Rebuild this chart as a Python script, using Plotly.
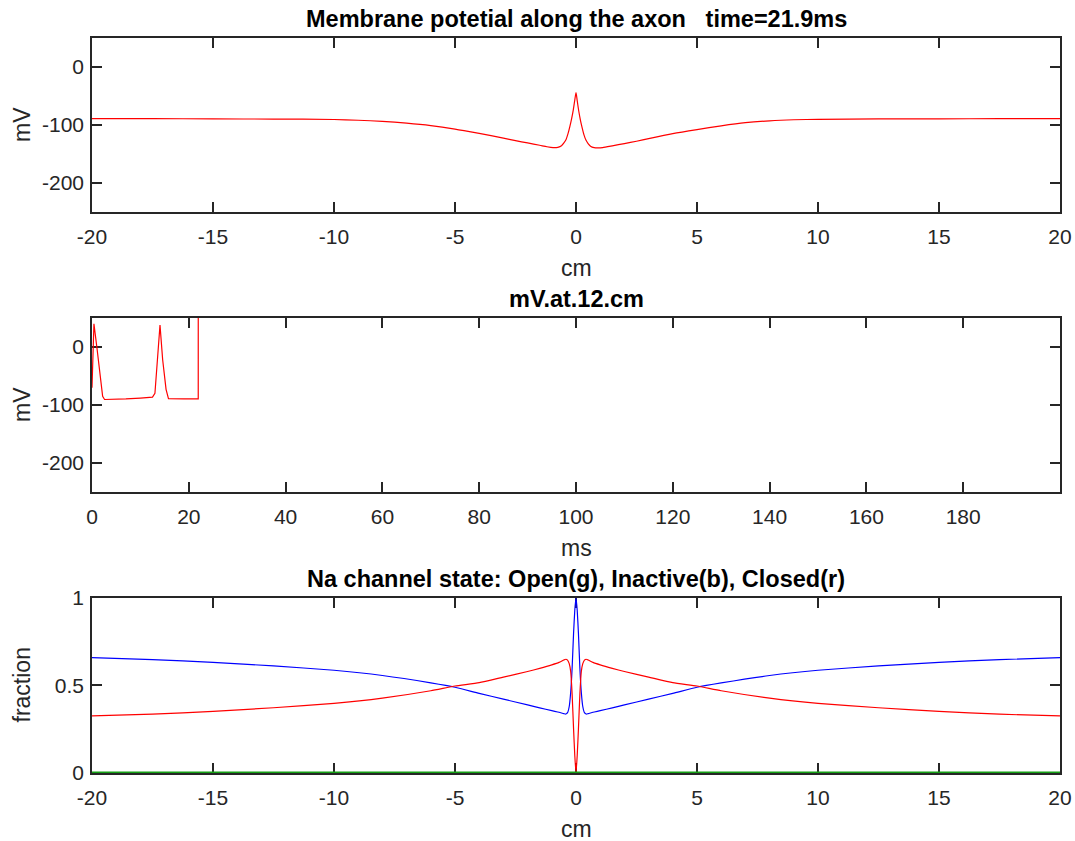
import plotly.graph_objects as go

# ---------------- data ----------------
# Panel 1: membrane potential along the axon (cm -> mV)
x_cm = [-20, -17.5, -15, -12.5, -10, -9, -8, -7, -6, -5, -4, -3, -2.5, -2, -1.5, -1.2,
        -0.95, -0.75, -0.6, -0.5, -0.41, -0.33, -0.25, -0.18, -0.11, -0.05, 0,
        0.05, 0.11, 0.18, 0.25, 0.33, 0.41, 0.5, 0.6, 0.75, 0.9, 1.1, 1.5, 2, 2.5, 3,
        4, 5, 6, 7, 8, 9, 10, 12.5, 15, 17.5, 20]
v_axon = [-89, -89, -89.5, -89.8, -90.5, -91.8, -93.8, -96.8, -101, -107, -114.5, -122.5, -127, -131, -135, -137.5,
          -139, -138.5, -136, -131, -125, -115, -102, -89, -73.5, -57, -44,
          -58, -75, -91, -104, -117, -126, -132, -136.5, -139, -139.5, -139, -136, -132, -128, -123.5,
          -115, -108, -101.5, -96, -92.8, -91, -90.2, -89.6, -89.5, -89, -89]

# Panel 2: membrane potential at 12 cm over time (ms -> mV)
t_ms = [0, 0.4, 1.0, 1.65, 2.2, 2.6, 4, 7, 10, 12.5, 13.0, 13.5, 14.05, 14.6, 15.3, 15.8, 17, 19, 21.0, 21.95, 21.97]
v_12cm = [-70, 40, 0, -51, -85, -90.5, -90.5, -89.5, -88, -86.5, -80, -22, 38, -22, -73, -89, -89.5, -89.5, -89.5, -89.5, 1000]

# Panel 3: Na channel state fractions along the axon
x_na = [-20, -17.5, -15, -12.5, -10, -8, -6, -5, -4, -3, -2, -1.5, -1, -0.7, -0.5, -0.42, -0.35, -0.28, -0.22,
        -0.16, -0.1, -0.05, 0,
        0.05, 0.1, 0.16, 0.22, 0.28, 0.35, 0.42, 0.5, 0.7, 1, 1.5, 2, 3, 4, 5, 6, 8, 10, 12.5, 15, 17.5, 20]
na_open = [0.0] * 45
na_inactive = [0.659, 0.648, 0.632, 0.612, 0.587, 0.557, 0.515, 0.49, 0.455, 0.422, 0.389, 0.372, 0.356, 0.347,
               0.339, 0.337, 0.345, 0.38, 0.46, 0.6, 0.8, 0.93, 1.0,
               0.93, 0.8, 0.6, 0.46, 0.38, 0.345, 0.337, 0.339, 0.347, 0.356, 0.372, 0.389, 0.422, 0.455,
               0.49, 0.515, 0.557, 0.587, 0.612, 0.632, 0.648, 0.659]
na_closed = [0.326, 0.336, 0.352, 0.373, 0.398, 0.428, 0.47, 0.497, 0.516, 0.548, 0.58, 0.598, 0.618, 0.632,
             0.646, 0.65, 0.645, 0.625, 0.58, 0.45, 0.25, 0.1, 0.0,
             0.1, 0.25, 0.45, 0.58, 0.625, 0.645, 0.65, 0.646, 0.632, 0.618, 0.598, 0.58, 0.548, 0.516,
             0.497, 0.47, 0.428, 0.398, 0.373, 0.352, 0.336, 0.326]

titles = ["Membrane potetial along the axon   time=21.9ms", "mV.at.12.cm",
          "Na channel state: Open(g), Inactive(b), Closed(r)"]
xlabels = ["cm", "ms", "cm"]
ylabels = ["mV", "mV", "fraction"]
x_ticks = [[-20, -15, -10, -5, 0, 5, 10, 15, 20], list(range(0, 200, 20)), [-20, -15, -10, -5, 0, 5, 10, 15, 20]]
y_ticks = [[-200, -100, 0], [-200, -100, 0], [0, 0.5, 1]]
y_ticktext = [["-200", "-100", "0"], ["-200", "-100", "0"], ["0", "0.5", "1"]]
x_ranges = [[-20, 20], [0, 200], [-20, 20]]
y_ranges = [[-250, 50], [-250, 50], [0, 1]]

# ---------------- figure ----------------
FONT = "Liberation Sans, Arial, Helvetica, sans-serif"
AX = "#262626"
fig = go.Figure()

fig.add_trace(go.Scatter(x=x_cm, y=v_axon, mode="lines", line=dict(color="#ff0000", width=1.2, shape="spline", smoothing=0.6),
                         xaxis="x", yaxis="y", showlegend=False))
fig.add_trace(go.Scatter(x=t_ms, y=v_12cm, mode="lines", line=dict(color="#ff0000", width=1.2),
                         xaxis="x2", yaxis="y2", showlegend=False))
fig.add_trace(go.Scatter(x=x_na, y=na_inactive, mode="lines", line=dict(color="#0000ff", width=1.2, shape="spline", smoothing=0.5),
                         xaxis="x3", yaxis="y3", showlegend=False))
fig.add_trace(go.Scatter(x=x_na, y=na_closed, mode="lines", line=dict(color="#ff0000", width=1.2, shape="spline", smoothing=0.5),
                         xaxis="x3", yaxis="y3", showlegend=False))
fig.add_trace(go.Scatter(x=x_na, y=na_open, mode="lines", line=dict(color="#14a014", width=3.2),
                         xaxis="x3", yaxis="y3", showlegend=False))

domains = [[0.7633, 1.0], [0.3823, 0.6190], [0.0, 0.2381]]
layout = dict(
    width=1075, height=841,
    margin=dict(l=92, r=15, t=38, b=68, autoexpand=False),
    paper_bgcolor="white", plot_bgcolor="white",
    font=dict(family=FONT, size=21, color=AX),
    showlegend=False,
)
annotations = []
for i in range(3):
    xa = "xaxis" if i == 0 else f"xaxis{i+1}"
    ya = "yaxis" if i == 0 else f"yaxis{i+1}"
    xr = "x" if i == 0 else f"x{i+1}"
    yr = "y" if i == 0 else f"y{i+1}"
    common = dict(showline=True, linecolor=AX, linewidth=1.5, mirror="ticks", ticks="inside",
                  ticklen=10, tickwidth=1.5, tickcolor=AX, showgrid=False, zeroline=False,
                  tickfont=dict(family=FONT, size=21, color=AX), layer="below traces", fixedrange=True,
                  automargin=False)
    layout[xa] = dict(domain=[0, 1], range=x_ranges[i], tickvals=x_ticks[i],
                      ticktext=[str(v) for v in x_ticks[i]], anchor=yr, ticklabelstandoff=5, **common)
    layout[ya] = dict(domain=domains[i], range=y_ranges[i], tickvals=y_ticks[i], ticktext=y_ticktext[i],
                      anchor=xr, ticklabelstandoff=2, **common)
    annotations.append(dict(text=f"<b>{titles[i]}</b>", xref=f"{xr} domain", yref=f"{yr} domain",
                            x=0.5, y=1, xanchor="center", yanchor="middle", yshift=19, showarrow=False,
                            font=dict(family=FONT, size=23.5, color="black")))
    annotations.append(dict(text=xlabels[i], xref=f"{xr} domain", yref=f"{yr} domain",
                            x=0.5, y=0, xanchor="center", yanchor="middle", yshift=-56, showarrow=False,
                            font=dict(family=FONT, size=23, color=AX)))
    annotations.append(dict(text=ylabels[i], xref=f"{xr} domain", yref=f"{yr} domain",
                            x=0, y=0.5, xanchor="center", yanchor="middle", xshift=-70, textangle=-90,
                            showarrow=False, font=dict(family=FONT, size=23, color=AX)))
layout["annotations"] = annotations
fig.update_layout(**layout)
fig.write_html("out.html", config={"displayModeBar": False},
               post_script="document.body.style.margin='0';document.body.style.overflow='hidden';")
